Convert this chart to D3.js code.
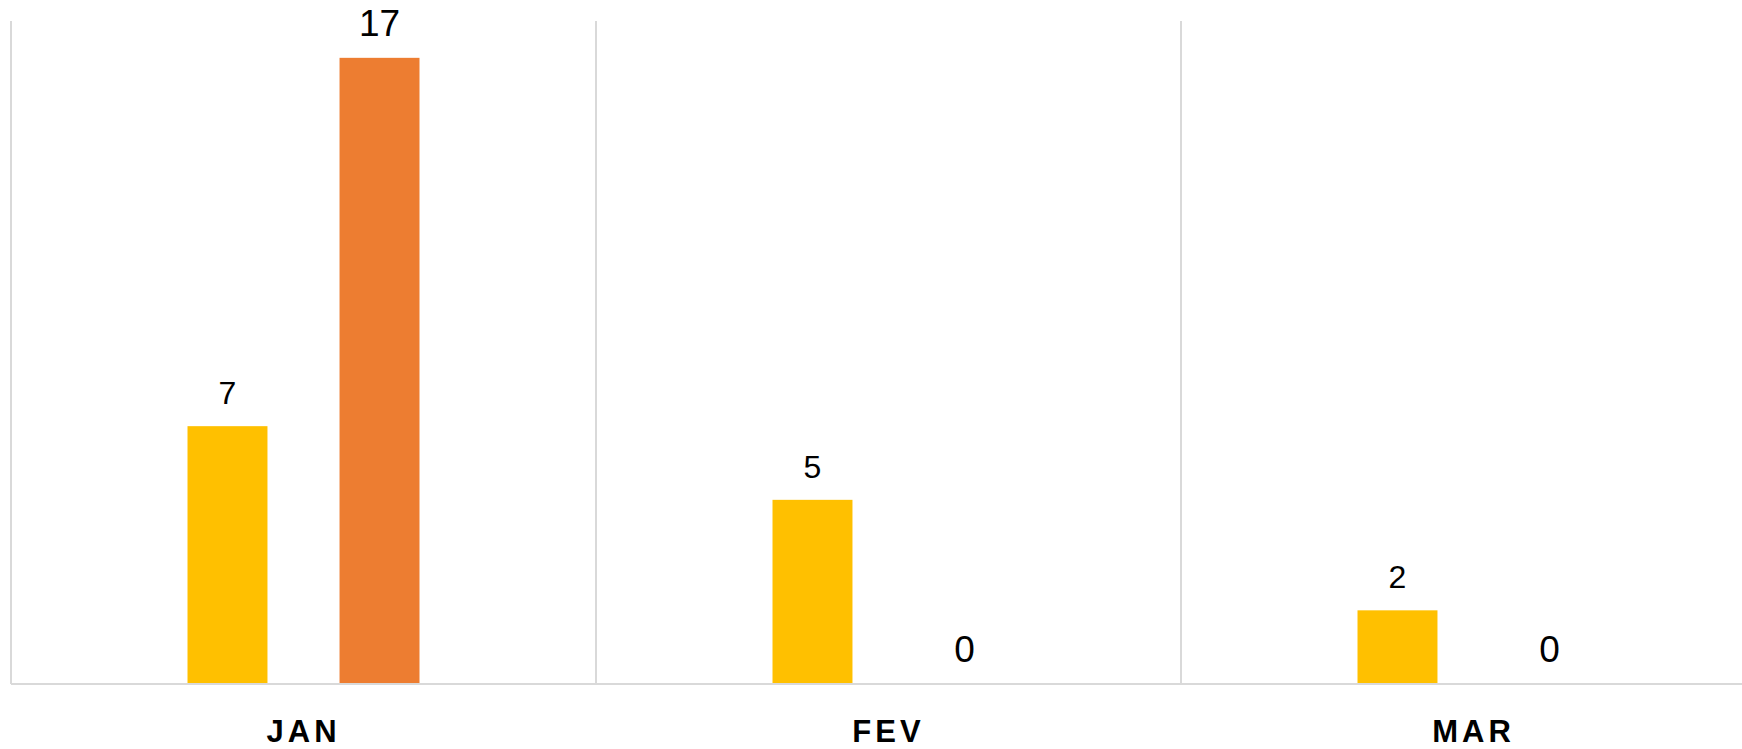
<!DOCTYPE html>
<html>
<head>
<meta charset="utf-8">
<script src="https://cdn.jsdelivr.net/npm/d3@7"></script>
<style>
  html, body { margin: 0; padding: 0; background: #fff; }
  svg { display: block; }
</style>
</head>
<body>
<svg id="chart" width="1742" height="749"></svg>
<script>
const categories = ["JAN", "FEV", "MAR"];
const seriesNames = ["Série 1", "Série 2"];
const series1 = [7, 5, 2];
const series2 = [17, 0, 0];
const seriesColors = ["#FFC000", "#ED7D31"];

(function () {
  const svg = d3.select("#chart");
  const plotLeft = 11, plotTop = 21, plotBottom = 684;
  const catW = 585;
  const plotRight = plotLeft + catW * categories.length;
  const font = "'Liberation Sans', Arial, sans-serif";

  const x0 = d3.scaleBand().domain(categories).range([plotLeft, plotRight]).padding(0);
  const x1 = d3.scaleBand().domain(seriesNames).range([0, x0.bandwidth()])
    .paddingInner(0.474).paddingOuter(1.161);
  const y = d3.scaleLinear().domain([0, 18]).range([plotBottom, plotTop]);

  const data = categories.map((c, i) => ({
    cat: c,
    vals: [
      { s: seriesNames[0], v: series1[i], idx: 0 },
      { s: seriesNames[1], v: series2[i], idx: 1 }
    ]
  }));

  // vertical category separators
  const sepPositions = categories.map(c => x0(c));
  svg.append("g").selectAll("line").data(sepPositions).join("line")
    .attr("x1", d => d).attr("x2", d => d)
    .attr("y1", plotTop).attr("y2", plotBottom)
    .attr("stroke", "#d9d9d9").attr("stroke-width", 2);

  // bars
  const groups = svg.append("g").selectAll("g").data(data).join("g")
    .attr("transform", d => `translate(${x0(d.cat)},0)`);

  groups.selectAll("rect").data(d => d.vals).join("rect")
    .attr("x", d => x1(d.s))
    .attr("width", x1.bandwidth())
    .attr("y", d => y(d.v))
    .attr("height", d => y(0) - y(d.v))
    .attr("fill", d => seriesColors[d.idx]);

  // value labels
  groups.selectAll("text").data(d => d.vals).join("text")
    .attr("x", d => x1(d.s) + x1.bandwidth() / 2)
    .attr("y", d => y(d.v) - 22)
    .attr("text-anchor", "middle")
    .attr("font-family", font)
    .attr("font-size", d => d.idx === 0 ? 32 : 37)
    .attr("fill", "#000")
    .text(d => d.v);

  // baseline axis
  svg.append("line")
    .attr("x1", plotLeft).attr("x2", plotRight)
    .attr("y1", plotBottom).attr("y2", plotBottom)
    .attr("stroke", "#d9d9d9").attr("stroke-width", 2);

  // category labels via axis
  const xAxis = d3.axisBottom(x0).tickSize(0).tickPadding(0);
  const ax = svg.append("g").attr("transform", `translate(0,${plotBottom})`).call(xAxis);
  ax.select(".domain").remove();
  ax.selectAll("text")
    .attr("y", 58)
    .attr("dy", 0)
    .attr("font-family", font)
    .attr("font-weight", "bold")
    .attr("font-size", 31)
    .attr("letter-spacing", "4px")
    .attr("fill", "#000");
})();
</script>
</body>
</html>
